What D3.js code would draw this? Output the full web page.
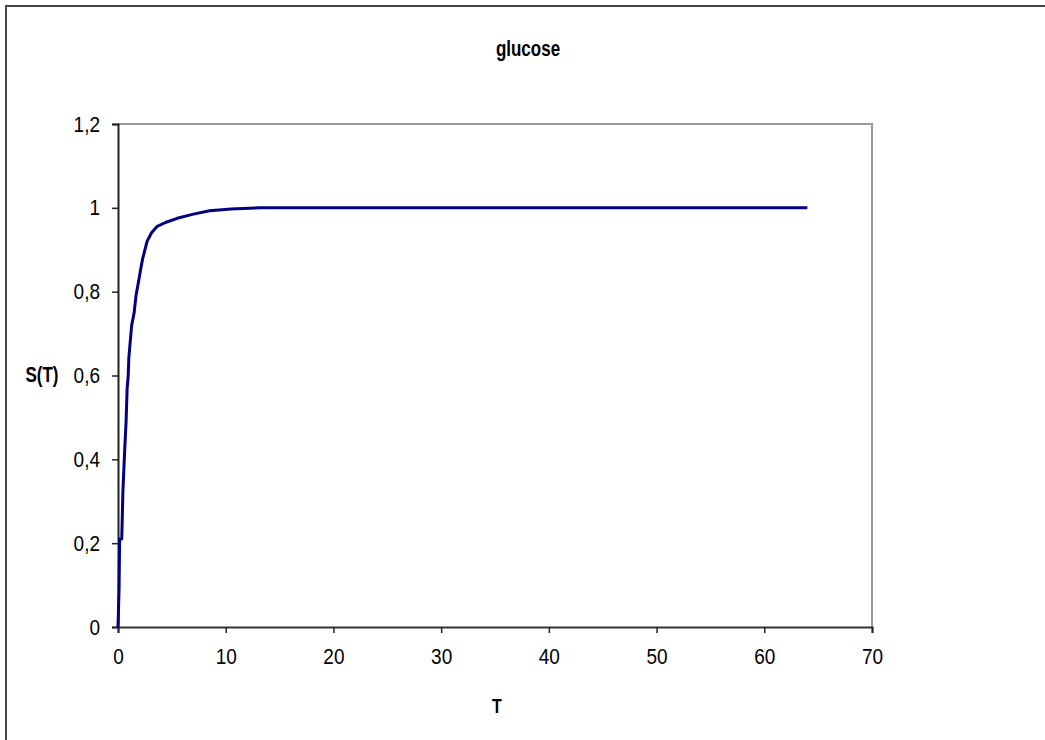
<!DOCTYPE html>
<html>
<head>
<meta charset="utf-8">
<script src="https://cdn.jsdelivr.net/npm/d3@7"></script>
<style>
  html, body { margin: 0; padding: 0; background: #fff; }
  svg { display: block; }
  text { font-family: "Liberation Sans", Arial, sans-serif; fill: #000; }
</style>
</head>
<body>
<svg id="chart" width="1045" height="740"></svg>
<script>
// ---- data ----
const chartTitle = "glucose";
const xLabel = "T";
const yLabel = "S(T)";
const tValues = [0, 0.1, 0.15, 0.35, 0.45, 0.6, 0.75, 0.85, 0.95, 1.0, 1.1, 1.27, 1.5, 1.67, 1.95, 2.15, 2.3, 2.7, 3.1, 3.6, 4.4, 5.5, 7.0, 8.5, 10.5, 13.2, 20, 30, 40, 50, 64];
const sValues = [0, 0.09, 0.21, 0.21, 0.32, 0.41, 0.49, 0.57, 0.6, 0.64, 0.67, 0.72, 0.75, 0.79, 0.83, 0.86, 0.88, 0.92, 0.94, 0.955, 0.965, 0.975, 0.985, 0.993, 0.997, 1.0, 1.0, 1.0, 1.0, 1.0, 1.0];
const xTicks = [0, 10, 20, 30, 40, 50, 60, 70];
const yTicks = [0, 0.2, 0.4, 0.6, 0.8, 1, 1.2];

const svg = d3.select("#chart");
const plot = { left: 118, right: 872, top: 124, bottom: 627 };

const x = d3.scaleLinear().domain([0, 70]).range([plot.left, plot.right]);
const y = d3.scaleLinear().domain([0, 1.2]).range([plot.bottom, plot.top]);

// outer frame (extends beyond right/bottom)
svg.append("rect")
  .attr("x", 6).attr("y", 6).attr("width", 1100).attr("height", 800)
  .attr("fill", "none").attr("stroke", "#444").attr("stroke-width", 2);

// plot area border (top & right gray)
svg.append("path")
  .attr("d", `M${plot.left},${plot.top}H${plot.right}V${plot.bottom}`)
  .attr("fill", "none").attr("stroke", "#999").attr("stroke-width", 2);

const fmt = d => String(d).replace(".", ",");
const SY = 1.15;
const FS = 19;

// x axis
const xAxis = svg.append("g").attr("transform", `translate(0,${plot.bottom})`)
  .call(d3.axisBottom(x).tickValues(xTicks).tickFormat(fmt).tickSizeOuter(0).tickSize(6).tickPadding(15));
xAxis.select(".domain").attr("stroke", "#333").attr("stroke-width", 2);
xAxis.selectAll(".tick line").attr("stroke", "#222").attr("stroke-width", 1.5);
xAxis.selectAll(".tick text")
  .attr("font-size", FS).attr("font-family", "Liberation Sans, Arial, sans-serif")
  .attr("fill", "#111")
  .each(function () {
    const t = d3.select(this);
    const yy = +t.attr("y");
    t.attr("transform", `translate(0,${yy}) scale(1,${SY}) translate(0,${-yy})`);
  });

// y axis
const yAxis = svg.append("g").attr("transform", `translate(${plot.left},0)`)
  .call(d3.axisLeft(y).tickValues(yTicks).tickFormat(fmt).tickSizeOuter(0).tickSize(6).tickPadding(12));
yAxis.select(".domain").attr("stroke", "#222").attr("stroke-width", 2);
yAxis.selectAll(".tick line").attr("stroke", "#222").attr("stroke-width", 1.5);
yAxis.selectAll(".tick text")
  .attr("font-size", FS).attr("font-family", "Liberation Sans, Arial, sans-serif")
  .attr("fill", "#111")
  .attr("transform", `scale(1,${SY})`).attr("dy", "0.32em");

// line
const line = d3.line().x((d, i) => x(tValues[i])).y(d => y(d));
svg.append("path")
  .datum(sValues)
  .attr("d", line)
  .attr("fill", "none")
  .attr("stroke", "#000080")
  .attr("stroke-width", 3)
  .attr("stroke-linejoin", "round");

// title
svg.append("text")
  .attr("transform", `translate(528,56) scale(1,1.25)`)
  .attr("text-anchor", "middle")
  .attr("font-size", 17).attr("font-weight", "bold")
  .text(chartTitle);

// x label
svg.append("text")
  .attr("transform", `translate(497,713) scale(1,1.25)`)
  .attr("text-anchor", "middle")
  .attr("font-size", 16).attr("font-weight", "bold")
  .text(xLabel);

// y label
svg.append("text")
  .attr("transform", `translate(42,382) scale(1,1.25)`)
  .attr("text-anchor", "middle")
  .attr("font-size", 17).attr("font-weight", "bold")
  .text(yLabel);
</script>
</body>
</html>
